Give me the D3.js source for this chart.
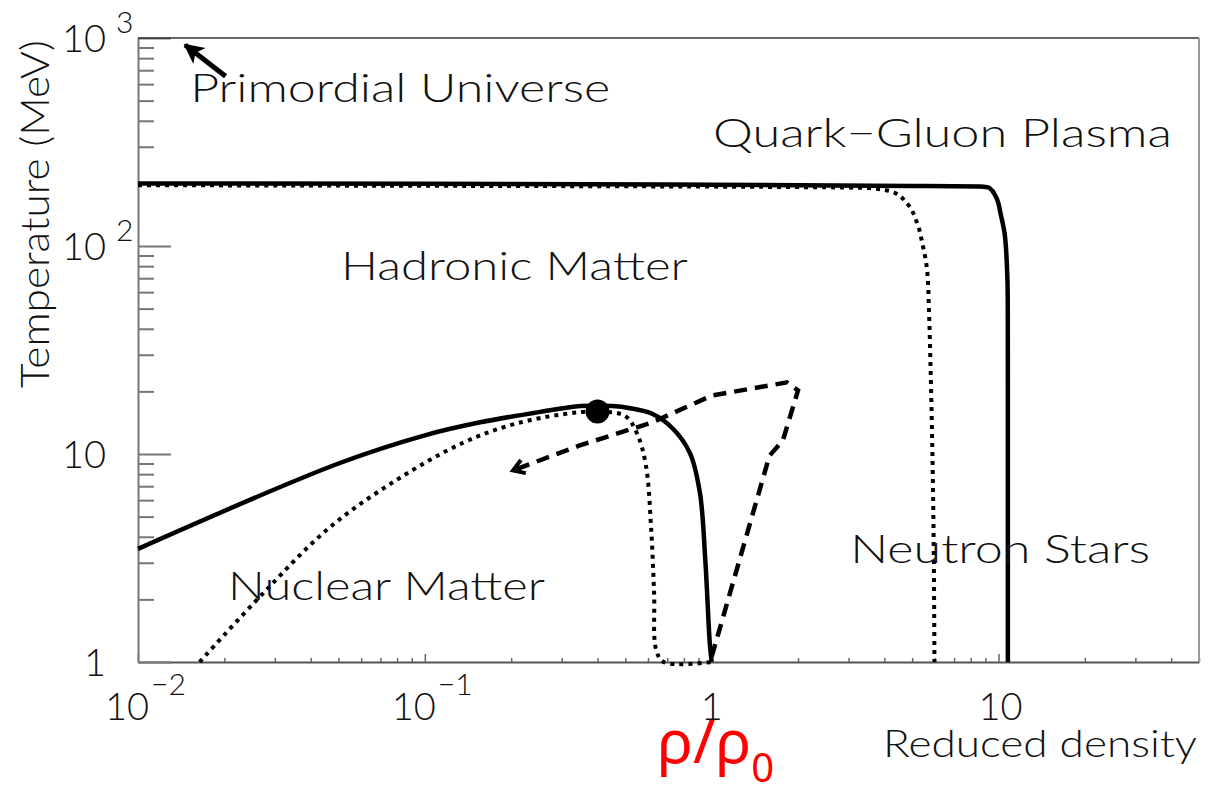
<!DOCTYPE html>
<html>
<head>
<meta charset="utf-8">
<script src="https://cdn.jsdelivr.net/npm/d3@7"></script>
<style>
  body { margin: 0; background: #fff; }
  svg { display: block; }
  text { font-family: "Lato", "DejaVu Sans", sans-serif; font-weight: 300; fill: #111; }
</style>
</head>
<body>
<svg id="chart" width="1216" height="786"></svg>
<script>
// Phase diagram of nuclear matter: temperature against reduced density (log–log)

// ---- axis ticks ----
const densityTicks = [0.01, 0.1, 1, 10];
const densityTickBase = ["10", "10", "1", "10"];
const densityTickExp = ["−2", "−1", "", ""];
const tempTicks = [1, 10, 100, 1000];
const tempTickBase = ["1", "10", "10", "10"];
const tempTickExp = ["", "", "2", "3"];

// ---- curves: [reduced density, temperature in MeV] ----
const liquidGasSolid = [
  [0.01, 3.5], [0.05, 9.0], [0.1, 12.3], [0.156, 14.2], [0.25, 15.9], [0.35, 17.0],
  [0.45, 17.0], [0.52, 16.6], [0.62, 15.6], [0.73, 13.3], [0.84, 10.1], [0.91, 6.5],
  [0.95, 3.1], [0.985, 1.23], [1.0, 1.0]
];
const liquidGasDotted = [
  [0.0164, 1.0], [0.0273, 2.14], [0.0467, 4.45], [0.0797, 7.5], [0.1355, 11.3],
  [0.2, 13.8], [0.3, 15.5], [0.4, 16.0], [0.5, 15.2], [0.55, 12.5], [0.59, 8.8],
  [0.615, 4.4], [0.63, 2.15], [0.64, 1.15], [0.68, 1.0], [1.0, 1.0]
];
const deconfinementSolid = [
  [0.01, 200], [0.1, 199], [1, 197], [5, 194.5], [8.6, 193], [9.3, 190],
  [9.8, 172], [10.2, 140], [10.5, 115], [10.7, 80], [10.77, 55], [10.78, 20], [10.78, 1]
];
const deconfinementDotted = [
  [0.01, 196], [1, 193], [3.5, 190], [4.27, 182], [4.8, 160], [5.17, 132],
  [5.45, 100], [5.58, 85], [5.66, 72], [5.72, 50], [5.8, 25], [5.9, 8], [5.98, 1]
];
const collisionPath = [
  [1.0, 1.06], [1.59, 9.8], [1.77, 11.6], [2.0, 20.2], [1.83, 22.1],
  [1.0, 19.1], [0.622, 14.2], [0.347, 11.0], [0.203, 8.34]
];
const criticalPoint = [0.4, 16];
const earlyUniverseArrow = [[0.0202, 655], [0.0146, 925]];

// ---- region names and where they sit (left end of baseline, data units) ----
const regionNames = ["Primordial Universe", "Quark−Gluon Plasma", "Hadronic Matter", "Nuclear Matter", "Neutron Stars"];
const regionAnchors = [[0.0152, 492], [1.01, 299], [0.051, 68.7], [0.0206, 1.99], [3.04, 2.99]];
const regionWidths = [420, 459, 347, 317, 300];

const svg = d3.select("#chart");
const margin = { left: 138, right: 1199, top: 38, bottom: 662 };

const x = d3.scaleLog().domain([0.01, 50]).range([margin.left, margin.right]);
const y = d3.scaleLog().domain([1, 1000]).range([margin.bottom, margin.top]);

const minorOf = (lo, hi) => {
  const out = [];
  for (let d = lo; d < hi; d *= 10) for (let k = 2; k <= 9; k++) if (d * k <= hi) out.push(d * k);
  return out;
};
const xMinor = minorOf(0.01, 50);
const yMinor = minorOf(1, 1000);

// ---- axes ----
const gx = svg.append("g").attr("transform", `translate(0,${margin.bottom})`);
gx.call(d3.axisBottom(x).tickValues(xMinor).tickSizeInner(-4).tickSizeOuter(0).tickFormat(""));
gx.append("g").call(d3.axisBottom(x).tickValues(densityTicks).tickSizeInner(-8).tickSizeOuter(0).tickFormat(""))
  .select(".domain").remove();
gx.selectAll("line").attr("stroke", "#666").attr("stroke-width", 1.5);
gx.selectAll(".domain").attr("stroke", "#555").attr("stroke-width", 2);

const gy = svg.append("g").attr("transform", `translate(${margin.left},0)`);
gy.call(d3.axisLeft(y).tickValues(yMinor).tickSizeInner(-16).tickSizeOuter(0).tickFormat(""));
gy.append("g").call(d3.axisLeft(y).tickValues(tempTicks).tickSizeInner(-33).tickSizeOuter(0).tickFormat(""))
  .select(".domain").remove();
gy.selectAll("line").attr("stroke", "#777").attr("stroke-width", 2);
gy.selectAll(".domain").attr("stroke", "#777").attr("stroke-width", 2);

// frame: top and right edges
svg.append("line").attr("x1", margin.left).attr("x2", margin.right)
  .attr("y1", margin.top).attr("y2", margin.top).attr("stroke", "#333").attr("stroke-width", 1.5);
svg.append("line").attr("x1", margin.right).attr("x2", margin.right)
  .attr("y1", margin.top).attr("y2", margin.bottom).attr("stroke", "#999").attr("stroke-width", 2);

// ---- tick labels with exponents ----
const tickFont = 38, expFont = 30;
tempTicks.forEach((v, i) => {
  svg.append("text").attr("font-size", tickFont)
    .attr("x", 106).attr("y", y(v) + 14).attr("text-anchor", "end").text(tempTickBase[i]);
  if (tempTickExp[i]) {
    svg.append("text").attr("font-size", expFont)
      .attr("x", 116).attr("y", y(v) - 5).text(tempTickExp[i]);
  }
});
densityTicks.forEach((v, i) => {
  const hasExp = densityTickExp[i] !== "";
  const cx = hasExp ? x(v) - 11 : x(v) + (densityTickBase[i].length > 1 ? 2 : 0);
  svg.append("text").attr("font-size", tickFont)
    .attr("x", cx).attr("y", 720).attr("text-anchor", "middle").text(densityTickBase[i]);
  if (hasExp) {
    svg.append("text").attr("font-size", expFont)
      .attr("x", cx + 24).attr("y", 695).text(densityTickExp[i]);
  }
});

// ---- axis titles ----
svg.append("text").attr("font-size", 40)
  .attr("transform", "translate(49,388) rotate(-90)")
  .attr("textLength", 348).attr("lengthAdjust", "spacingAndGlyphs")
  .text("Temperature (MeV)");
svg.append("text").attr("font-size", 38)
  .attr("x", 883).attr("y", 757)
  .attr("textLength", 314).attr("lengthAdjust", "spacingAndGlyphs")
  .text("Reduced density");

const rho = svg.append("text").attr("x", 657).attr("y", 763)
  .style("font-family", "'Noto Sans', 'DejaVu Sans', sans-serif").style("font-weight", 400)
  .style("fill", "#ff0000").attr("font-size", 60);
rho.append("tspan").text("ρ/ρ");
rho.append("tspan").attr("font-size", 40).attr("dy", 19).text("0");

// ---- curves ----
const smooth = d3.line().x(d => x(d[0])).y(d => y(d[1])).curve(d3.curveCatmullRom.alpha(0.5));
const falling = d3.line().x(d => x(d[0])).y(d => y(d[1])).curve(d3.curveMonotoneY);
const polyline = d3.line().x(d => x(d[0])).y(d => y(d[1]));
const curves = svg.append("g").attr("fill", "none").attr("stroke", "#000");

curves.append("path").datum(deconfinementDotted).attr("d", falling)
  .attr("stroke-width", 4).attr("stroke-dasharray", "4,5");
curves.append("path").datum(liquidGasDotted).attr("d", smooth)
  .attr("stroke-width", 4).attr("stroke-dasharray", "4,5");
curves.append("path").datum(deconfinementSolid).attr("d", falling)
  .attr("stroke-width", 4.5).attr("stroke-linejoin", "round");
curves.append("path").datum(liquidGasSolid).attr("d", smooth)
  .attr("stroke-width", 4.5).attr("stroke-linejoin", "round");

// collision trajectory with open arrowhead
const defs = svg.append("defs");
defs.append("marker").attr("id", "chevron").attr("markerUnits", "userSpaceOnUse")
  .attr("viewBox", "-14 -10 18 20").attr("refX", 0).attr("refY", 0)
  .attr("markerWidth", 18).attr("markerHeight", 20).attr("orient", "auto")
  .append("path").attr("d", "M-11,-7 L0,0 L-11,7")
  .attr("fill", "none").attr("stroke", "#000").attr("stroke-width", 4);
defs.append("marker").attr("id", "solidHead").attr("markerUnits", "userSpaceOnUse")
  .attr("viewBox", "-20 -11 24 22").attr("refX", 0).attr("refY", 0)
  .attr("markerWidth", 24).attr("markerHeight", 22).attr("orient", "auto")
  .append("path").attr("d", "M2,0 L-18,-10 L-13,0 L-18,10 Z").attr("fill", "#000");

curves.append("path").datum(collisionPath).attr("d", polyline)
  .attr("stroke-width", 4.5).attr("stroke-dasharray", "13,8")
  .attr("marker-end", "url(#chevron)");

curves.append("path").datum(earlyUniverseArrow).attr("d", polyline)
  .attr("stroke-width", 5).attr("marker-end", "url(#solidHead)");

svg.append("circle").attr("cx", x(criticalPoint[0])).attr("cy", y(criticalPoint[1]))
  .attr("r", 12).attr("fill", "#000");

// ---- region names ----
regionNames.forEach((name, i) => {
  svg.append("text").attr("font-size", 40)
    .attr("x", x(regionAnchors[i][0])).attr("y", y(regionAnchors[i][1]))
    .attr("textLength", regionWidths[i]).attr("lengthAdjust", "spacingAndGlyphs")
    .text(name);
});
</script>
</body>
</html>
